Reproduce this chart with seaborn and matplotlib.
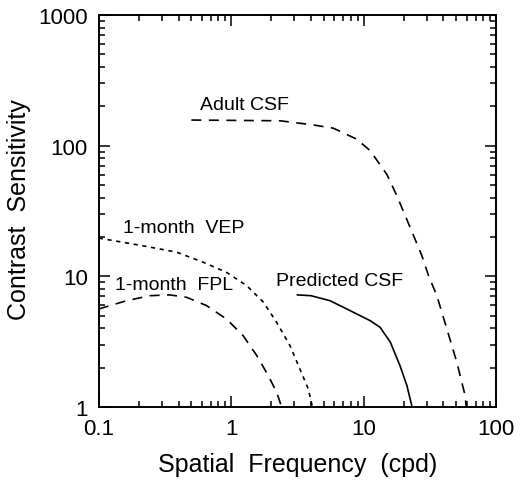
import matplotlib
matplotlib.use("Agg")
import matplotlib.pyplot as plt
import matplotlib.ticker as mticker
import seaborn as sns

# curve values (spatial frequency in cpd, contrast sensitivity)
adult_x = [0.5, 2.33, 4.17, 5.9, 8.87, 11.2, 15.0, 17.8, 20.6, 23.8, 27.5, 30.9, 35.7, 42.5, 50.5, 58.4, 59.5]
adult_y = [157, 155, 144, 136, 112, 91.5, 60, 41.4, 29.1, 20.5, 14.4, 10.1, 7.1, 3.95, 2.2, 1.22, 1.0]

vep_x = [0.1, 0.216, 0.386, 0.615, 0.923, 1.31, 1.75, 2.2, 2.78, 3.3, 3.82, 4.1]
vep_y = [19.6, 17.1, 15.3, 12.8, 10.7, 8.47, 6.33, 4.45, 2.94, 1.95, 1.37, 1.0]

fpl_x = [0.1, 0.162, 0.243, 0.344, 0.46, 0.651, 0.92, 1.23, 1.56, 1.9, 2.2, 2.4]
fpl_y = [5.62, 6.5, 7.1, 7.2, 6.9, 5.96, 4.71, 3.51, 2.47, 1.74, 1.3, 1.0]

pred_x = [3.15, 4.0, 5.57, 7.45, 11.2, 13.3, 15.9, 18.8, 21.2, 23.2]
pred_y = [7.2, 7.1, 6.5, 5.62, 4.57, 4.07, 3.13, 2.07, 1.46, 1.0]

curve_labels = ["Adult CSF", "1-month  VEP", "1-month  FPL", "Predicted CSF"]
label_x = [0.58, 0.151, 0.132, 2.18]
label_y = [208, 23.8, 8.7, 9.25]

x_ticks = [0.1, 1, 10, 100]
x_ticklabels = ["0.1", "1", "10", "100"]
y_ticks = [1, 10, 100, 1000]
y_ticklabels = ["1", "10", "100", "1000"]

sns.set_style("ticks")
plt.rcParams['font.family'] = ['Liberation Sans', 'DejaVu Sans']
plt.rcParams['text.color'] = 'black'
plt.rcParams['axes.labelcolor'] = 'black'
plt.rcParams['xtick.color'] = 'black'
plt.rcParams['ytick.color'] = 'black'

fig = plt.figure(figsize=(5.2, 4.85), dpi=100)
ax = fig.add_axes([0.190, 0.159, 0.764, 0.808])

lw = 1.2
sns.lineplot(x=adult_x, y=adult_y, ax=ax, color="black", lw=lw, linestyle=(0, (6, 4.5)))
sns.lineplot(x=vep_x, y=vep_y, ax=ax, color="black", lw=lw, linestyle=(0, (2.5, 2.8)))
sns.lineplot(x=fpl_x, y=fpl_y, ax=ax, color="black", lw=lw, linestyle=(0, (6, 4.5)))
sns.lineplot(x=pred_x, y=pred_y, ax=ax, color="black", lw=lw)

ax.set_xscale("log")
ax.set_yscale("log")
ax.set_xlim(0.1, 100)
ax.set_ylim(1, 1000)

ax.xaxis.set_major_locator(mticker.FixedLocator(x_ticks))
ax.xaxis.set_major_formatter(mticker.FixedFormatter(x_ticklabels))
ax.yaxis.set_major_locator(mticker.FixedLocator(y_ticks))
ax.yaxis.set_major_formatter(mticker.FixedFormatter(y_ticklabels))
ax.xaxis.set_minor_locator(mticker.LogLocator(base=10, subs=range(2, 10)))
ax.yaxis.set_minor_locator(mticker.LogLocator(base=10, subs=range(2, 10)))
ax.xaxis.set_minor_formatter(mticker.NullFormatter())
ax.yaxis.set_minor_formatter(mticker.NullFormatter())

ax.tick_params(which="both", direction="in", top=True, right=True, color="black", width=1.1)
ax.tick_params(which="major", length=8, labelsize=16, pad=8)
ax.tick_params(which="minor", length=4)
for s in ax.spines.values():
    s.set_linewidth(1.4)
    s.set_color("black")

for t, lx, ly in zip(curve_labels, label_x, label_y):
    ax.text(lx, ly, t, fontsize=14, va="center", ha="left", color="black")

ax.set_xlabel("Spatial  Frequency  (cpd)", fontsize=18)
ax.set_ylabel("Contrast  Sensitivity", fontsize=18)
ax.xaxis.set_label_coords(0.5, -0.115)
ax.yaxis.set_label_coords(-0.17, 0.505)

plt.savefig("out.png", dpi=100)
